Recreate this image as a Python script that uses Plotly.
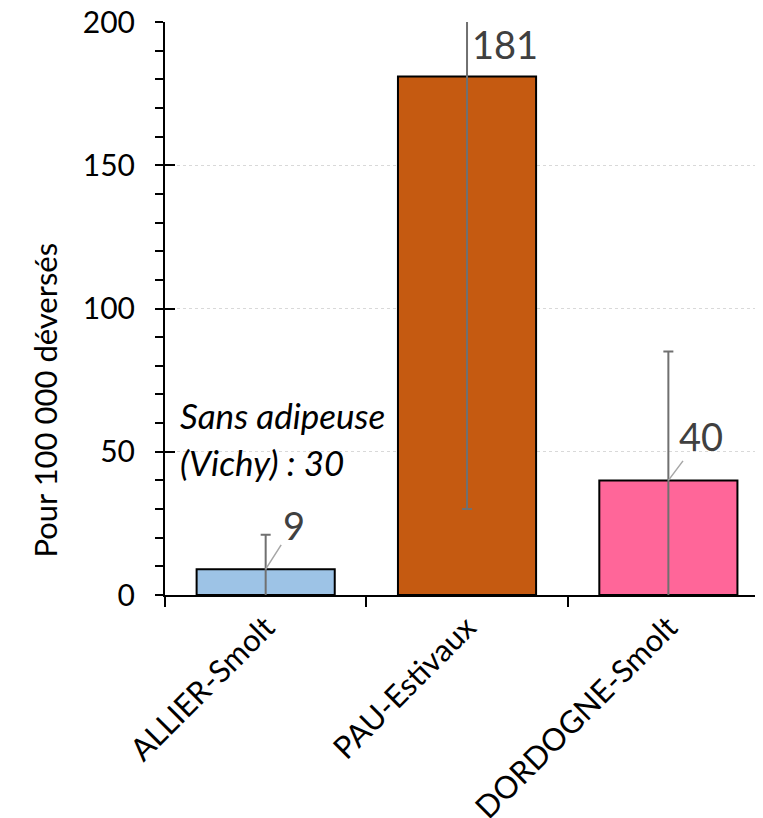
import plotly.graph_objects as go

categories = ["ALLIER-Smolt", "PAU-Estivaux", "DORDOGNE-Smolt"]
values = [9, 181, 40]
errors = [12, 151, 45]
colors = ["#9DC3E6", "#C55A11", "#FF6699"]
major_ticks = [0, 50, 100, 150, 200]
note_lines = ["Sans adipeuse", "(Vichy) : 30"]
y_title = "Pour 100 000 déversés"

FONT = "Lato"

fig = go.Figure()

fig.add_trace(go.Bar(
    x=categories, y=values, width=0.686,
    marker=dict(color=colors, line=dict(color="black", width=2)),
    error_y=dict(type="data", array=errors, color="#707070", thickness=2, width=5),
    showlegend=False,
))

# empty trace so the overlay axis (inner half of the major ticks) is drawn
fig.add_trace(go.Scatter(x=[], y=[], yaxis="y2", showlegend=False))

# data labels with leader lines
label_offsets = [(28, -44, True), (38, -32, False), (33, -44, True)]
for cat, val, (dx, dy, arrow) in zip(categories, values, label_offsets):
    if arrow:
        fig.add_annotation(x=cat, y=val, text=str(val), showarrow=True, arrowhead=0,
                           arrowwidth=1.5, arrowcolor="#A6A6A6", ax=dx, ay=dy,
                           font=dict(family=FONT, size=38, color="#404040"))
    else:
        fig.add_annotation(x=cat, y=val, text=str(val), showarrow=False,
                           xshift=dx, yshift=-dy,
                           font=dict(family=FONT, size=38, color="#404040"))

for i, line in enumerate(note_lines):
    fig.add_annotation(x=-0.435, y=63 - i * 16.5, text="<i>" + line + "</i>", showarrow=False,
                       xanchor="left", yanchor="middle",
                       font=dict(family=FONT, size=35, color="black"))

# y title sits lower than the axis middle in the original, so place it by hand
fig.add_annotation(xref="paper", x=-0.2, y=68, text=y_title, textangle=-90,
                   showarrow=False, xanchor="center", yanchor="middle",
                   font=dict(family=FONT, size=31, color="black"))

# the page body adds an 8px margin, so the figure is 8px smaller each way
fig.update_layout(
    width=755, height=810,
    margin=dict(l=157, r=0, t=14, b=223),
    plot_bgcolor="white", paper_bgcolor="white",
    font=dict(family=FONT, color="black"),
    xaxis=dict(range=[-0.5, 2.47], tickson="boundaries", ticks="outside", ticklen=10,
               tickwidth=2, tickcolor="black", showline=True, linecolor="black", linewidth=2,
               tickangle=-45, tickfont=dict(size=31, family=FONT, color="black"),
               showgrid=False, automargin=False),
    yaxis=dict(range=[0, 200], tickvals=major_ticks, ticks="outside", ticklen=8,
               tickwidth=2, tickcolor="black", showline=True, linecolor="black", linewidth=2,
               tickfont=dict(size=30, family=FONT, color="black"), ticklabelstandoff=14,
               ticklabeloverflow="allow",
               showgrid=True, gridcolor="#D9D9D9", gridwidth=1, griddash="dot",
               minor=dict(dtick=10, ticks="outside", ticklen=8, tickwidth=1.5,
                          tickcolor="black", showgrid=False),
               zeroline=False, automargin=False),
    yaxis2=dict(overlaying="y", side="left", anchor="x", range=[0, 200],
                tickvals=major_ticks[1:], ticks="inside", ticklen=10, tickwidth=2,
                tickcolor="black", showticklabels=False, showgrid=False,
                showline=False, zeroline=False, automargin=False),
)

fig.write_html("out.html")
